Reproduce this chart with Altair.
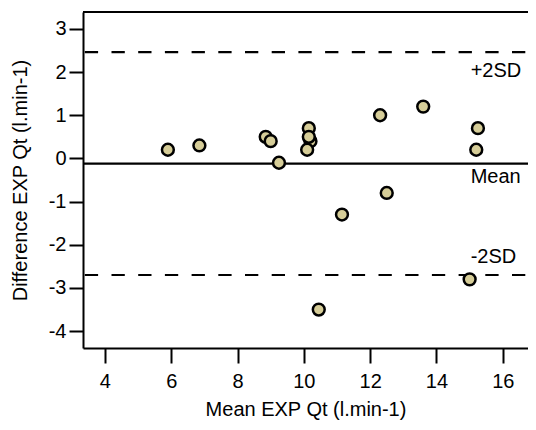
import altair as alt
import pandas as pd

# Bland-Altman data
mean_qt = [5.9, 6.85, 8.85, 9.0, 9.25, 10.15, 10.2, 10.15, 10.1, 12.3, 13.6,
           15.25, 15.2, 12.5, 11.15, 10.45, 15.0]
diff_qt = [0.2, 0.3, 0.5, 0.4, -0.1, 0.7, 0.4, 0.5, 0.2, 1.0, 1.2,
           0.7, 0.2, -0.8, -1.3, -3.5, -2.8]

line_names = ["+2SD", "Mean", "-2SD"]
line_values = [2.46, -0.12, -2.70]

x_ticks = [4, 6, 8, 10, 12, 14, 16]
y_ticks = [-4, -3, -2, -1, 0, 1, 2, 3]

FONT = "Liberation Sans"
FS = 20
W, H = 445, 336
DASH = [13.3, 13.4]

pts = pd.DataFrame({"m": mean_qt, "d": diff_qt})
lines = pd.DataFrame({"name": line_names, "v": line_values})

xs = alt.Scale(domain=[3.34, 16.76], nice=False, zero=False)
ys = alt.Scale(domain=[-4.39, 3.39], nice=False, zero=False)

LBL = "'' + datum.value"

x_enc = alt.X("m:Q", scale=xs, title="Mean EXP Qt (l.min-1)",
              axis=alt.Axis(values=x_ticks, grid=False, domainColor="black",
                            domainWidth=2, tickColor="black", tickWidth=2,
                            tickSize=15, labelPadding=8, labelFont=FONT,
                            labelFontSize=FS, labelColor="black", labelExpr=LBL,
                            titleFont=FONT, titleFontSize=FS, titleFontWeight="normal",
                            titleColor="black", titlePadding=8))
y_enc = alt.Y("d:Q", scale=ys, title="Difference EXP Qt (l.min-1)",
              axis=alt.Axis(values=y_ticks, grid=False, domainColor="black",
                            domainWidth=2, tickColor="black", tickWidth=2,
                            tickSize=14, labelPadding=3, labelFont=FONT,
                            labelFontSize=FS, labelColor="black", labelExpr=LBL,
                            titleFont=FONT, titleFontSize=FS, titleFontWeight="normal",
                            titleColor="black", titlePadding=18))

points = alt.Chart(pts).mark_point(
    shape="circle", filled=True, fill="#d6cd98", stroke="black",
    strokeWidth=2.5, size=140, opacity=1
).encode(x=x_enc, y=y_enc)

def hline(i, dashed):
    kw = dict(strokeDash=DASH, strokeDashOffset=-2.7) if dashed else {}
    return alt.Chart(lines.iloc[[i]]).mark_rule(
        color="black", strokeWidth=2.2, **kw
    ).encode(y=alt.Y("v:Q", scale=ys))

def label(i, dy):
    return alt.Chart(lines.iloc[[i]]).mark_text(
        align="left", baseline="middle", font=FONT, fontSize=FS,
        color="black", dx=1, dy=dy
    ).encode(x=alt.datum(15.0, scale=xs), y=alt.Y("v:Q", scale=ys),
             text="name:N")

top_frame = alt.Chart(lines.iloc[[0]]).mark_rule(color="black", strokeWidth=2).encode(
    y=alt.value(0), x=alt.value(0), x2=alt.value(W))

chart = alt.layer(
    hline(0, True), hline(1, False), hline(2, True),
    label(0, 19), label(1, 13), label(2, -18),
    top_frame, points
).properties(
    width=W, height=H,
    autosize=alt.AutoSizeParams(type="none"),
    padding={"left": 75, "top": 4, "right": 0, "bottom": 74},
).configure_view(stroke=None)

chart.save("out.html", embed_options={"renderer": "svg", "actions": False})
